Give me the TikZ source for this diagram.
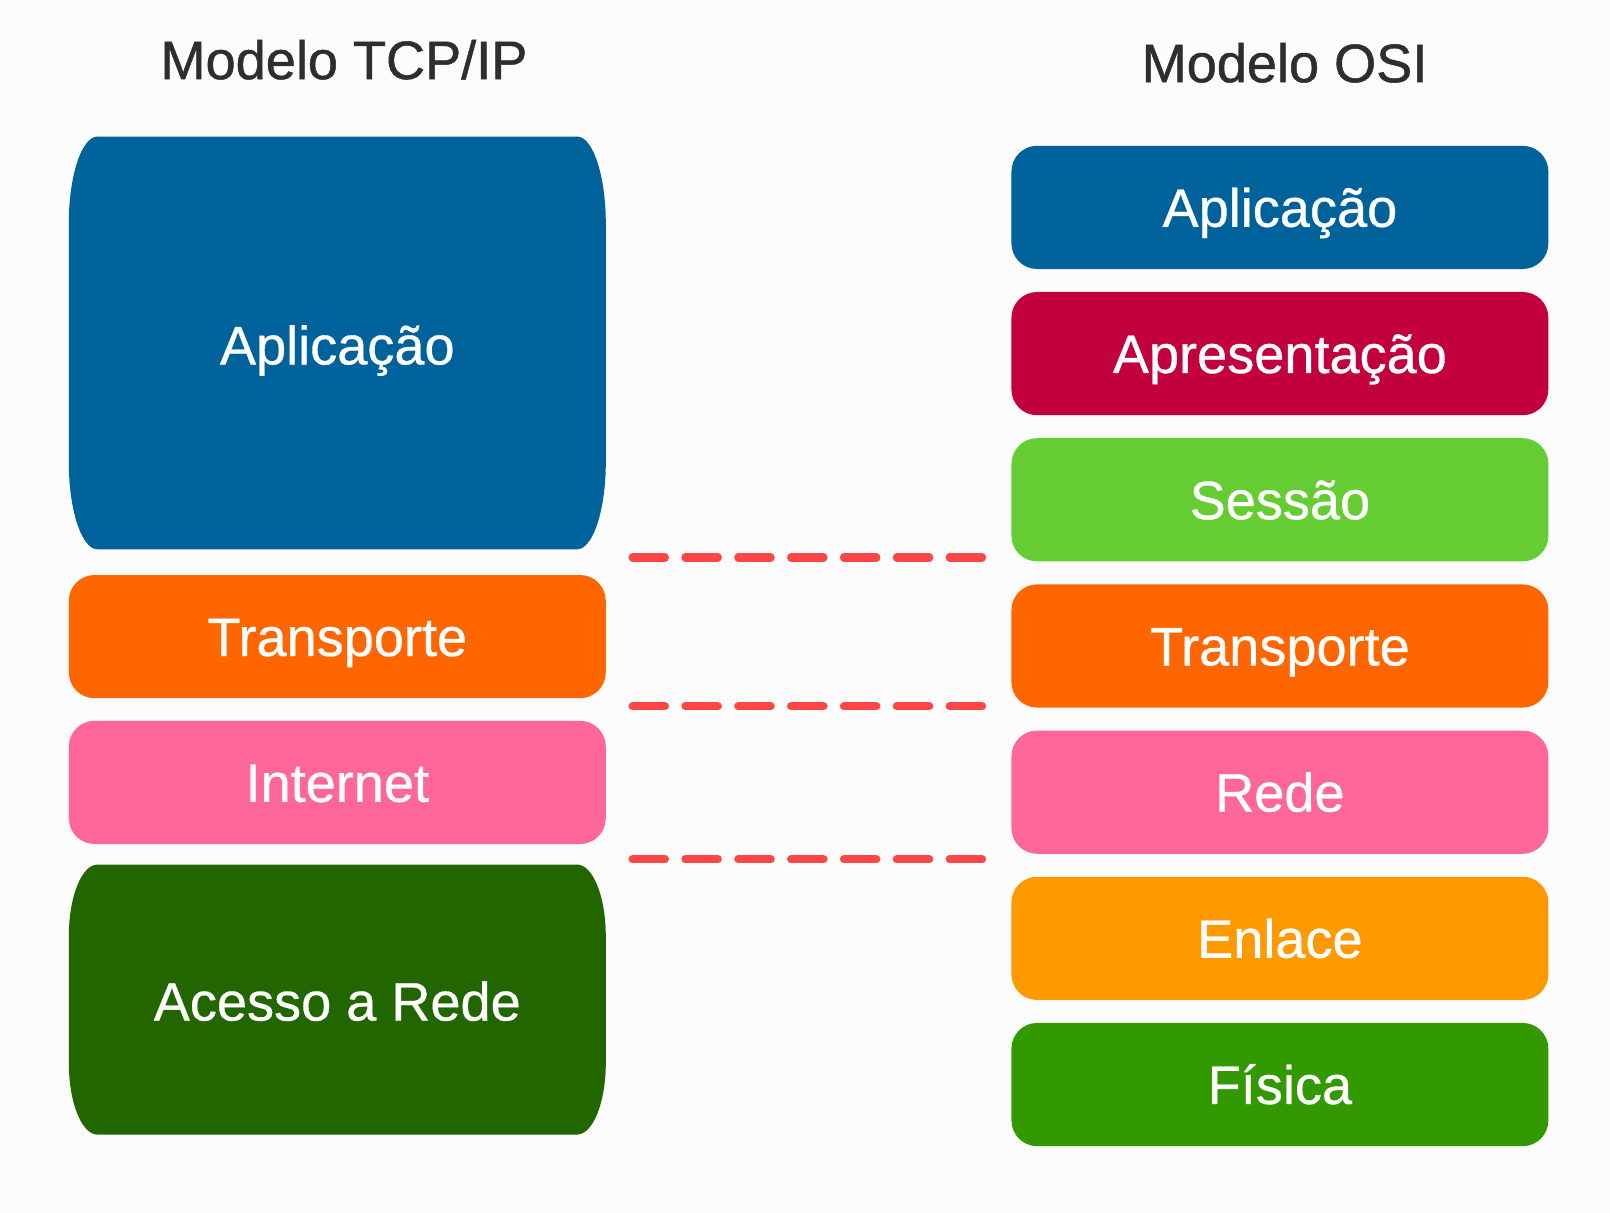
\documentclass[tikz,border=0pt]{standalone}
\usepackage{fontspec}
\setmainfont{Liberation Sans}
\newfontfamily\rotulofont[FakeBold=0.6]{Liberation Sans}
\newfontfamily\titulofont[FakeBold=0.9]{Liberation Sans}
\usetikzlibrary{positioning}

\definecolor{fundo}{HTML}{FCFCFC}
\definecolor{cinza}{HTML}{2E2E2E}
\definecolor{azul}{HTML}{00629B}
\definecolor{vinho}{HTML}{C2003D}
\definecolor{verdeclaro}{HTML}{66CC33}
\definecolor{laranja}{HTML}{FF6600}
\definecolor{rosa}{HTML}{FF6699}
\definecolor{ambar}{HTML}{FF9900}
\definecolor{verde}{HTML}{339900}
\definecolor{verdeescuro}{HTML}{226600}
\definecolor{vermelho}{HTML}{FF4646}

\begin{document}
\begin{tikzpicture}[x=0.02cm,y=0.02cm,
    camada/.style={rounded corners=0.5cm, minimum width=10.46cm, minimum height=2.4cm,
      inner sep=0pt, text=white, text height=21.5pt, text depth=0pt,
      font=\rotulofont\fontsize{30}{36}\selectfont},
    titulo/.style={text=cinza, anchor=base, font=\titulofont\fontsize{30}{36}\selectfont},
    divisa/.style={vermelho, line width=4.5pt, line cap=round, dash pattern=on 18pt off 11.3pt}]
  \fill[fundo] (0,0) rectangle (1568,1181);
  \useasboundingbox (0,0) rectangle (1568,1181);

  % titulos
  \node[titulo] (ttcp) at (335,1104) {Modelo TCP/IP};
  \node[titulo] (tosi) at (1251,1101) {Modelo OSI};

  % modelo TCP/IP
  \fill[azul] (95,1048) -- (562,1048) arc[start angle=90, end angle=0, x radius=0.56cm, y radius=1.7cm]
    -- (590,731) arc[start angle=0, end angle=-90, x radius=0.56cm, y radius=1.7cm]
    -- (95,646) arc[start angle=270, end angle=180, x radius=0.56cm, y radius=1.7cm]
    -- (67,963) arc[start angle=180, end angle=90, x radius=0.56cm, y radius=1.7cm] -- cycle;
  \node[camada, minimum height=8.04cm] (tcpapp) at (328.5,845) {Aplicação};
  \node[camada, fill=laranja] (tcptra) at (328.5,561) {Transporte};
  \node[camada, fill=rosa] (tcpint) at (328.5,419) {Internet};
  \fill[verdeescuro] (95,339) -- (562,339) arc[start angle=90, end angle=0, x radius=0.56cm, y radius=1.4cm]
    -- (590,146) arc[start angle=0, end angle=-90, x radius=0.56cm, y radius=1.4cm]
    -- (95,76) arc[start angle=270, end angle=180, x radius=0.56cm, y radius=1.4cm]
    -- (67,269) arc[start angle=180, end angle=90, x radius=0.56cm, y radius=1.4cm] -- cycle;
  \node[camada, minimum height=5.26cm] (tcpace) at (328.5,206) {Acesso a Rede};

  % modelo OSI
  \node[camada, fill=azul] (osiapp) at (1246.5,979) {Aplicação};
  \node[camada, fill=vinho, below=0.434cm of osiapp] (osiapr) {Apresentação};
  \node[camada, fill=verdeclaro, below=0.434cm of osiapr] (osises) {Sessão};
  \node[camada, fill=laranja, below=0.434cm of osises] (ositra) {Transporte};
  \node[camada, fill=rosa, below=0.434cm of ositra] (osired) {Rede};
  \node[camada, fill=ambar, below=0.434cm of osired] (osienl) {Enlace};
  \node[camada, fill=verde, below=0.434cm of osienl] (osifis) {Física};

  % divisas
  \foreach \y [count=\i] in {638,493,344} {
    \coordinate (e\i) at (616,\y);
    \coordinate (d\i) at (958,\y);
    \draw[divisa] (e\i) -- (d\i);
  }
\end{tikzpicture}
\end{document}
